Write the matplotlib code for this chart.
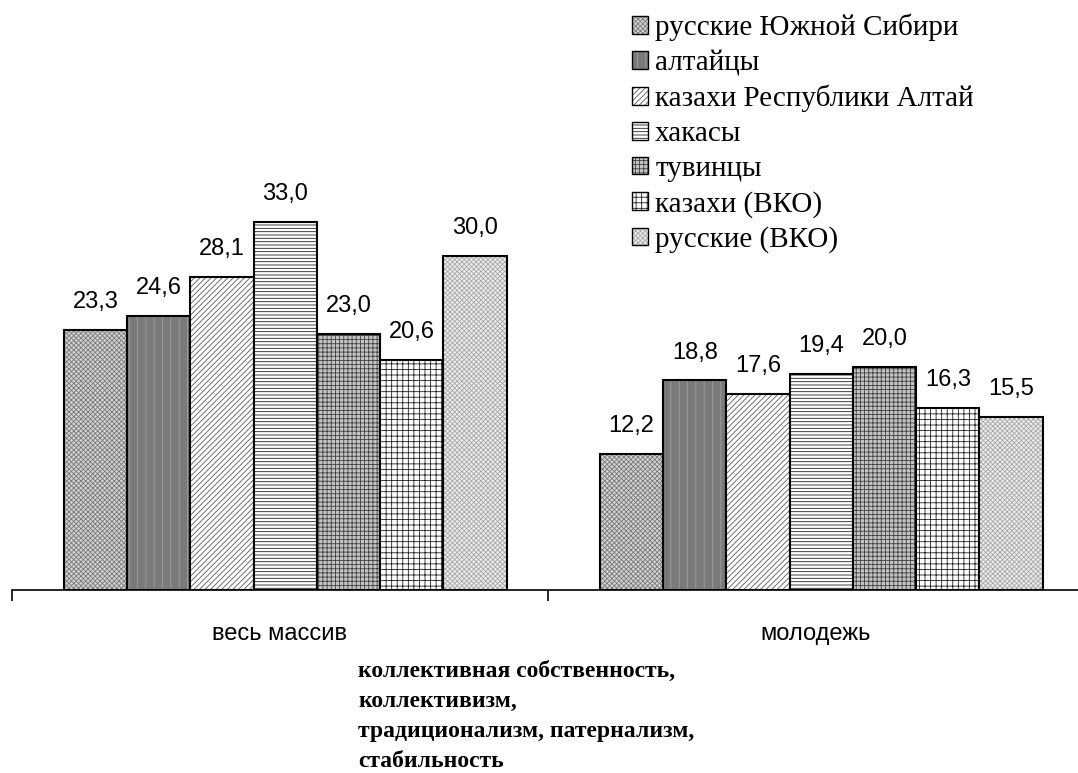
import matplotlib
matplotlib.use("Agg")
import matplotlib.pyplot as plt
import numpy as np

# data
categories = ["весь массив", "молодежь"]
groups = ["русские Южной Сибири", "алтайцы", "казахи Республики Алтай",
          "хакасы", "тувинцы", "казахи (ВКО)", "русские (ВКО)"]
values = {
    "русские Южной Сибири": [23.3, 12.2],
    "алтайцы": [24.6, 18.8],
    "казахи Республики Алтай": [28.1, 17.6],
    "хакасы": [33.0, 19.4],
    "тувинцы": [23.0, 20.0],
    "казахи (ВКО)": [20.6, 16.3],
    "русские (ВКО)": [30.0, 15.5],
}
caption_lines = ["коллективная собственность,", "коллективизм,",
                 "традиционализм, патернализм,", "стабильность"]

# (face colour, hatch colour, hatch)
styles = [
    ("#d4d4d4", "#7a7a7a", "xxxxxxx"),
    ("#7a7a7a", "#a0a0a0", "||"),
    ("#ffffff", "#5a5a5a", "//////"),
    ("#ffffff", "#202020", "-----"),
    ("#c4c4c4", "#404040", "++++"),
    ("#ffffff", "#202020", "+++"),
    ("#ececec", "#a8a8a8", "xxxxxxx"),
]

plt.rcParams["hatch.linewidth"] = 0.6
fig = plt.figure(figsize=(10.78, 7.73), dpi=100)
ax = fig.add_axes([12 / 1078, (773 - 590) / 773, 1072 / 1078, 446 / 773])

x = np.arange(len(categories))
w = 0.118
handles = []
for j, name in enumerate(groups):
    fc, hc, hatch = styles[j]
    pos = x + (j - 3) * w + 0.01
    vals = values[name]
    ax.bar(pos, vals, w, color=fc, edgecolor=hc, hatch=hatch, linewidth=0)
    ax.bar(pos, vals, w, fill=False, edgecolor="black", linewidth=1.5)
    for px, v in zip(pos, vals):
        ax.text(px, v + 2.5, f"{v:.1f}".replace(".", ","), ha="center",
                va="center", fontsize=17, family="Liberation Sans")
    h1 = plt.Rectangle((0, 0), 1, 1, facecolor=fc, edgecolor=hc, hatch=hatch, linewidth=0)
    h2 = plt.Rectangle((0, 0), 1, 1, fill=False, edgecolor="black", linewidth=1.0)
    handles.append((h1, h2))

ax.set_xlim(-0.5, 1.5)
ax.set_ylim(0, 40)
ax.set_yticks([])
for s in ["top", "right", "left"]:
    ax.spines[s].set_visible(False)
ax.spines["bottom"].set_linewidth(1.2)
ax.set_xticks(x)
ax.set_xticklabels(categories, fontsize=17, family="Liberation Sans")
ax.tick_params(axis="x", which="major", length=0, pad=24)
ax.set_xticks([-0.5, 0.5, 1.5], minor=True)
ax.tick_params(axis="x", which="minor", length=8, width=1.2)

fig.legend(handles, groups, loc="upper left",
           bbox_to_anchor=(626 / 1078, 1 - 8 / 773),
           frameon=False, prop={"family": "Liberation Serif", "size": 21},
           handlelength=0.55, handleheight=0.55, handletextpad=0.25,
           labelspacing=0.3, borderaxespad=0.0, borderpad=0.2)

for i, line in enumerate(caption_lines):
    fig.text(358 / 1078, 1 - (671 + i * 30.3) / 773, line, ha="left",
             va="center", fontsize=17, fontweight="bold",
             family="Liberation Serif")

fig.savefig("out.png", dpi=100)
